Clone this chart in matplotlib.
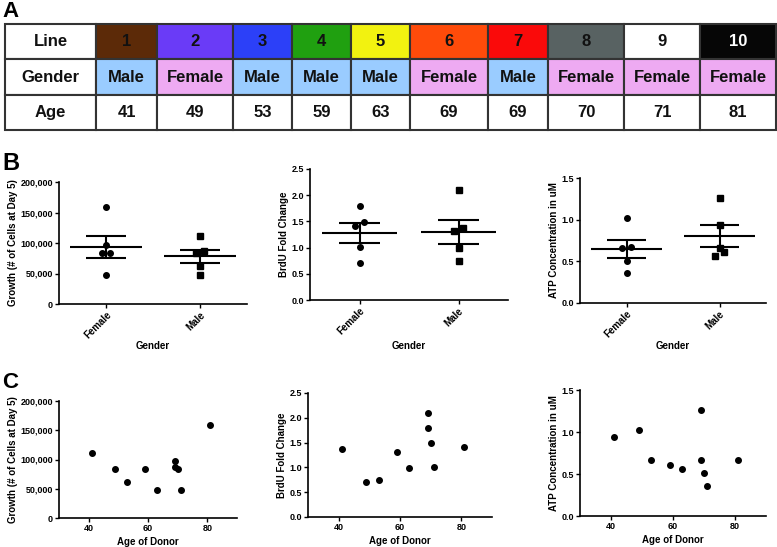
import numpy as np
import matplotlib
matplotlib.use("Agg")
import matplotlib.pyplot as plt
from matplotlib.ticker import FuncFormatter

plt.rcParams['font.family'] = ['Liberation Sans', 'DejaVu Sans']
plt.rcParams['font.weight'] = 'bold'
plt.rcParams['axes.labelweight'] = 'bold'

## donor lines (table A)
lines = ['1', '2', '3', '4', '5', '6', '7', '8', '9', '10']
genders = ['Male', 'Female', 'Male', 'Male', 'Male', 'Female', 'Male', 'Female', 'Female', 'Female']
ages = [41, 49, 53, 59, 63, 69, 69, 70, 71, 81]
line_colors = ['#5c2a08', '#6a3bf7', '#2c40f8', '#20a010', '#f2f210', '#ff4b0a',
               '#fa0a0a', '#586262', '#ffffff', '#060606']
gender_colors = {'Male': '#9accff', 'Female': '#eeaaf2'}

## measurements per line
growth = [111500, 83000, 61500, 83000, 47800, 97200, 87400, 83000, 48300, 158500]
brdu = [1.38, 0.70, 0.75, 1.31, 0.99, 1.80, 2.09, 1.49, 1.01, 1.41]
atp = [0.94, 1.02, 0.665, 0.61, 0.565, 0.665, 1.26, 0.51, 0.36, 0.67]

groups = ['Female', 'Male']
ylabels = ['Growth (# of Cells at Day 5)', 'BrdU Fold Change', 'ATP Concentration in uM']
ylims = [200000, 2.5, 1.5]
ysteps = [50000, 0.5, 0.5]

W, H = 777, 547
fig = plt.figure(figsize=(W / 100, H / 100), dpi=100)


def rect(l, t, r, b):
    return [l / W, 1 - b / H, (r - l) / W, (b - t) / H]


def swarm(vals, tol, d):
    ## spread points that sit close together, like the prism dot plot
    order = np.argsort(vals)[::-1]
    offs = np.zeros(len(vals))
    grp = [order[0]]
    chunks = []
    for i in order[1:]:
        if vals[grp[-1]] - vals[i] < tol:
            grp.append(i)
        else:
            chunks.append(grp)
            grp = [i]
    chunks.append(grp)
    pattern = {1: [0], 2: [d, -d], 3: [0, d, -d], 4: [d, -d, 2 * d, -2 * d]}
    for g in chunks:
        for k, i in enumerate(g):
            offs[i] = pattern[len(g)][k]
    return offs


def style(ax, ymax, step):
    for s in ['top', 'right']:
        ax.spines[s].set_visible(False)
    for s in ['left', 'bottom']:
        ax.spines[s].set_linewidth(1.2)
    ax.set_ylim(0, ymax)
    ax.set_yticks(np.arange(0, ymax + step / 2, step))
    ax.tick_params(direction='out', length=2.8, width=1.0, labelsize=6.5, pad=1.5)
    if ymax > 1000:
        ax.yaxis.set_major_formatter(FuncFormatter(lambda v, p: '{:,.0f}'.format(v)))
    else:
        ax.yaxis.set_major_formatter(FuncFormatter(lambda v, p: '{:.1f}'.format(v)))


## ---------- A: table ----------
ax_t = fig.add_axes(rect(5, 24, 776, 130))
ax_t.axis('off')
col_w = [91, 61, 76, 59, 59, 59, 78, 60, 76, 76, 76]
cell_text = [['Line'] + lines, ['Gender'] + genders, ['Age'] + [str(a) for a in ages]]
cell_cols = [['white'] + line_colors,
             ['white'] + [gender_colors[g] for g in genders],
             ['white'] * (len(ages) + 1)]
tbl = ax_t.table(cellText=cell_text, cellColours=cell_cols,
                 colWidths=[w / sum(col_w) for w in col_w],
                 cellLoc='center', bbox=[0, 0, 1, 1])
tbl.auto_set_font_size(False)
tbl.set_fontsize(12)
for (r, c), cell in tbl.get_celld().items():
    cell.set_edgecolor('#333333')
    cell.set_linewidth(1.5)
    cell.get_text().set_fontweight('bold')
    if r == 0 and c == 10:
        cell.get_text().set_color('white')
    else:
        cell.get_text().set_color('#111111')
fig.text(2 / W, 1 - 17 / H, 'A', fontsize=16, fontweight='bold', ha='left', va='baseline')

## ---------- B: by gender ----------
b_boxes = [(59, 182, 247, 304), (310, 169, 508, 300), (580, 178, 766, 303)]
c_boxes = [(59, 401, 237, 518), (308, 393, 492, 517), (580, 390, 766, 516)]
series = [growth, brdu, atp]
gend = np.array(genders)

for k in range(3):
    box = b_boxes[k]
    ax = fig.add_axes(rect(*box))
    vals_all = np.array(series[k], dtype=float)
    for gi, g in enumerate(groups):
        v = vals_all[gend == g]
        offs = swarm(v, 0.045 * ylims[k], 0.045)
        ax.plot(gi + offs, v, linestyle='none', marker='o' if g == 'Female' else 's',
                markersize=4.0, color='black', zorder=3)
        m = v.mean()
        sem = v.std(ddof=1) / np.sqrt(len(v))
        ax.hlines(m, gi - 0.38, gi + 0.38, color='black', linewidth=1.5, zorder=2)
        ax.hlines([m - sem, m + sem], gi - 0.21, gi + 0.21, color='black', linewidth=1.5, zorder=2)
        ax.vlines(gi, m - sem, m + sem, color='black', linewidth=1.5, zorder=2)
    ax.set_xlim(-0.5, 1.5)
    ax.set_xticks(range(len(groups)))
    ax.set_xticklabels(groups, rotation=45, ha='right', rotation_mode='anchor')
    style(ax, ylims[k], ysteps[k])
    ax.tick_params(axis='x', labelsize=7)
    ax.set_ylabel(ylabels[k], fontsize=7, fontweight='bold', labelpad=2)
    ax.set_xlabel('Gender', fontsize=7, fontweight='bold')
    hpx = box[3] - box[1]
    ax.xaxis.set_label_coords(0.5, -(341 - box[3]) / hpx)

fig.text(2 / W, 1 - 170 / H, 'B', fontsize=17, fontweight='bold', ha='left', va='baseline')

## ---------- C: by age ----------
for k in range(3):
    ax = fig.add_axes(rect(*c_boxes[k]))
    ax.plot(ages, series[k], linestyle='none', marker='o', markersize=4.0, color='black')
    ax.set_xlim(30, 90)
    ax.set_xticks([40, 60, 80])
    style(ax, ylims[k], ysteps[k])
    ax.set_ylabel(ylabels[k], fontsize=7, fontweight='bold', labelpad=2)
    ax.set_xlabel('Age of Donor', fontsize=7, fontweight='bold', labelpad=3)

fig.text(2 / W, 1 - 388 / H, 'C', fontsize=16, fontweight='bold', ha='left', va='baseline')

fig.savefig('out.png', dpi=100)
